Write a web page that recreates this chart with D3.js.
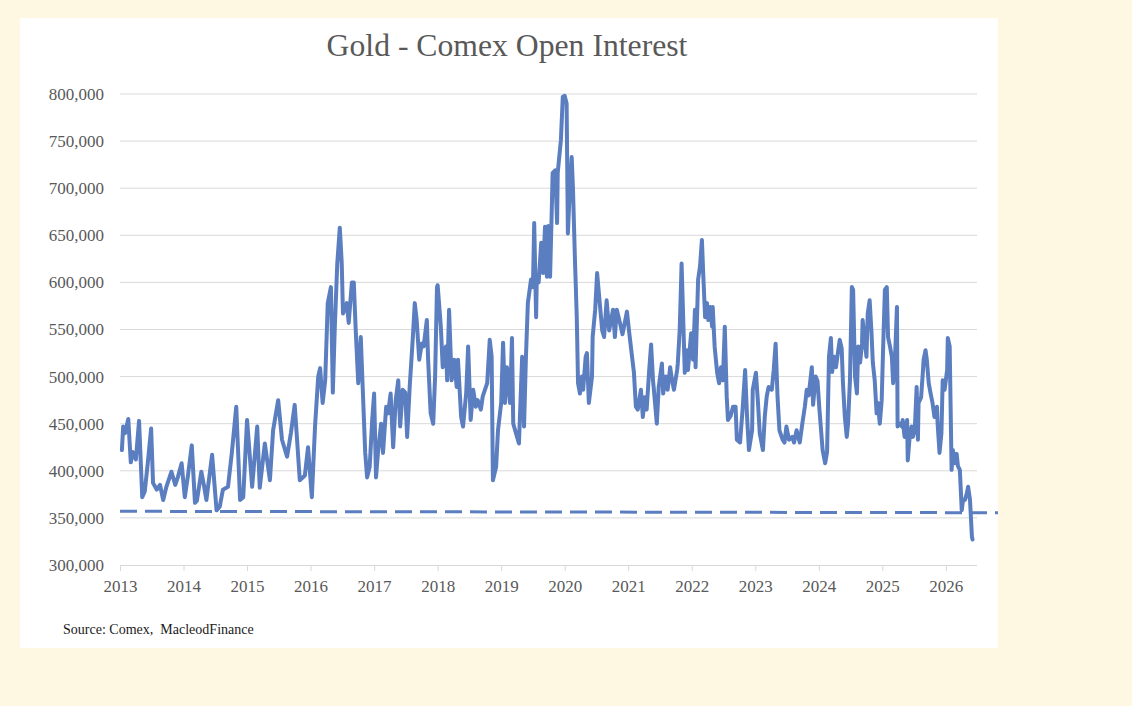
<!DOCTYPE html>
<html><head><meta charset="utf-8">
<script src="https://cdn.jsdelivr.net/npm/d3@7"></script>
<style>
html,body{margin:0;padding:0;background:#FEF7E2;}
svg{display:block;}
</style></head>
<body>
<svg id="chart" width="1132" height="706"></svg>
<script>
// Open interest readings: [decimal year, contracts in thousands]
const oi2013 = [[2013.03,422],[2013.05,447],[2013.08,440],[2013.13,455],[2013.17,409],[2013.20,420],[2013.25,412],[2013.30,453],[2013.35,372],[2013.39,378],[2013.44,410],[2013.49,445],[2013.52,387],[2013.58,380],[2013.63,385],[2013.68,369],[2013.73,383],[2013.81,399],[2013.87,385],[2013.91,393],[2013.97,408]];
const oi2014 = [[2014.02,372],[2014.07,395],[2014.13,427],[2014.18,366],[2014.21,368],[2014.28,399],[2014.32,385],[2014.36,369],[2014.45,417],[2014.52,358],[2014.57,362],[2014.62,380],[2014.70,383],[2014.76,419],[2014.83,468],[2014.89,369],[2014.94,372]];
const oi2015 = [[2015.00,454],[2015.08,383],[2015.16,447],[2015.20,382],[2015.28,429],[2015.36,390],[2015.41,443],[2015.49,475],[2015.55,433],[2015.63,415],[2015.69,440],[2015.75,470],[2015.83,390],[2015.91,395],[2015.96,425]];
const oi2016 = [[2016.02,372],[2016.07,447],[2016.12,500],[2016.15,509],[2016.19,472],[2016.23,496],[2016.27,578],[2016.32,595],[2016.35,483],[2016.38,550],[2016.42,620],[2016.46,658],[2016.49,621],[2016.51,567],[2016.57,578],[2016.60,557],[2016.65,600],[2016.68,600],[2016.71,550],[2016.75,493],[2016.79,542],[2016.82,489],[2016.86,419],[2016.89,393],[2016.93,404],[2016.97,454]];
const oi2017 = [[2017.00,482],[2017.03,393],[2017.06,419],[2017.11,450],[2017.14,419],[2017.19,468],[2017.22,461],[2017.26,482],[2017.30,425],[2017.34,475],[2017.38,496],[2017.41,447],[2017.45,486],[2017.49,483],[2017.52,436],[2017.56,489],[2017.61,542],[2017.64,578],[2017.67,560],[2017.71,518],[2017.75,535],[2017.78,532],[2017.83,560],[2017.85,518],[2017.89,461],[2017.93,450],[2017.96,500],[2017.99,595]];
const oi2018 = [[2018.00,597],[2018.05,553],[2018.08,510],[2018.13,532],[2018.15,496],[2018.18,571],[2018.22,496],[2018.26,518],[2018.30,489],[2018.32,518],[2018.37,457],[2018.40,447],[2018.45,483],[2018.48,532],[2018.52,454],[2018.56,486],[2018.60,468],[2018.63,475],[2018.68,465],[2018.71,479],[2018.78,493],[2018.82,539],[2018.85,521],[2018.87,390],[2018.92,404],[2018.95,443]];
const oi2019 = [[2019.00,472],[2019.03,536],[2019.06,472],[2019.09,510],[2019.14,472],[2019.17,541],[2019.19,450],[2019.25,436],[2019.28,429],[2019.33,521],[2019.36,447],[2019.39,521],[2019.42,578],[2019.47,603],[2019.50,595],[2019.52,663],[2019.55,563],[2019.56,603],[2019.59,600],[2019.63,642],[2019.66,610],[2019.69,659],[2019.72,606],[2019.74,660],[2019.77,606],[2019.80,687],[2019.81,716],[2019.85,719],[2019.88,663],[2019.89,716],[2019.94,751],[2019.97,797]];
const oi2020 = [[2020.00,798],[2020.03,790],[2020.05,652],[2020.08,698],[2020.11,733],[2020.13,700],[2020.16,627],[2020.19,563],[2020.21,493],[2020.24,482],[2020.27,500],[2020.29,486],[2020.33,521],[2020.35,525],[2020.38,472],[2020.43,500],[2020.44,542],[2020.48,571],[2020.51,610],[2020.54,587],[2020.59,549],[2020.62,542],[2020.66,581],[2020.70,549],[2020.74,563],[2020.76,571],[2020.79,542],[2020.82,571],[2020.87,557],[2020.91,545],[2020.98,569]];
const oi2021 = [[2021.01,550],[2021.06,521],[2021.09,504],[2021.12,468],[2021.15,465],[2021.20,486],[2021.23,457],[2021.26,478],[2021.29,465],[2021.33,507],[2021.36,534],[2021.39,496],[2021.40,489],[2021.45,450],[2021.48,489],[2021.53,514],[2021.55,482],[2021.59,500],[2021.62,486],[2021.66,510],[2021.69,496],[2021.72,486],[2021.77,507],[2021.78,514],[2021.81,549],[2021.84,620],[2021.86,574],[2021.89,504],[2021.92,528],[2021.94,507],[2021.99,546]];
const oi2022 = [[2022.02,518],[2022.05,571],[2022.06,510],[2022.10,603],[2022.13,617],[2022.16,645],[2022.18,610],[2022.21,563],[2022.24,578],[2022.26,560],[2022.29,574],[2022.32,553],[2022.33,574],[2022.36,532],[2022.40,504],[2022.43,493],[2022.46,510],[2022.49,496],[2022.52,553],[2022.55,479],[2022.57,454],[2022.61,458],[2022.65,468],[2022.69,468],[2022.71,433],[2022.76,430],[2022.80,465],[2022.84,507],[2022.87,458],[2022.90,422],[2022.95,443],[2022.96,486]];
const oi2023 = [[2023.01,504],[2023.04,475],[2023.07,440],[2023.12,422],[2023.15,458],[2023.18,479],[2023.21,489],[2023.26,486],[2023.29,507],[2023.32,535],[2023.35,479],[2023.38,443],[2023.43,433],[2023.46,430],[2023.49,447],[2023.53,433],[2023.58,436],[2023.61,430],[2023.65,443],[2023.70,430],[2023.74,450],[2023.78,468],[2023.81,486],[2023.84,480],[2023.89,510],[2023.91,470],[2023.95,500],[2023.98,495]];
const oi2024 = [[2024.01,465],[2024.06,422],[2024.10,408],[2024.13,420],[2024.16,521],[2024.19,541],[2024.21,505],[2024.24,521],[2024.27,510],[2024.30,525],[2024.33,539],[2024.36,530],[2024.38,493],[2024.41,457],[2024.44,436],[2024.46,450],[2024.49,496],[2024.52,595],[2024.54,592],[2024.57,500],[2024.60,482],[2024.62,532],[2024.65,515],[2024.68,535],[2024.69,560],[2024.72,540],[2024.75,521],[2024.77,567],[2024.80,581],[2024.83,546],[2024.85,515],[2024.88,496],[2024.91,461],[2024.93,472],[2024.96,450],[2024.99,475]];
const oi2025 = [[2025.01,525],[2025.04,592],[2025.07,595],[2025.09,542],[2025.12,532],[2025.15,521],[2025.17,493],[2025.20,521],[2025.23,574],[2025.24,447],[2025.28,450],[2025.31,447],[2025.32,454],[2025.35,436],[2025.39,454],[2025.40,411],[2025.43,436],[2025.46,447],[2025.48,436],[2025.51,443],[2025.54,489],[2025.56,433],[2025.57,472],[2025.61,478],[2025.64,507],[2025.65,518],[2025.68,528],[2025.70,518],[2025.73,493],[2025.76,482],[2025.79,472],[2025.82,457],[2025.86,468],[2025.87,450],[2025.90,419],[2025.93,440],[2025.95,496],[2025.98,486]];
const oi2026 = [[2026.02,507],[2026.03,541],[2026.06,532],[2026.09,401],[2026.11,422],[2026.14,408],[2026.17,418],[2026.19,405],[2026.22,401],[2026.25,358],[2026.27,369],[2026.30,369],[2026.33,376],[2026.35,383],[2026.38,369],[2026.41,330],[2026.42,327]];

// Dashed reference level: [start year, value], [end year, value]
const refLine = [[2013.0, 357000], [2026.82, 355500]];

const yTicks = [300000, 350000, 400000, 450000, 500000, 550000, 600000, 650000, 700000, 750000, 800000];
const xTicks = [2013, 2014, 2015, 2016, 2017, 2018, 2019, 2020, 2021, 2022, 2023, 2024, 2025, 2026];
const titleText = "Gold - Comex Open Interest";
const sourceText = "Source: Comex,  MacleodFinance";

const series = [].concat(oi2013, oi2014, oi2015, oi2016, oi2017, oi2018, oi2019, oi2020, oi2021, oi2022, oi2023, oi2024, oi2025, oi2026)
  .map(d => ({t: d[0], v: d[1] * 1000}));

const svg = d3.select("#chart");
const serif = "'Liberation Serif', 'DejaVu Serif', serif";
const textCol = "#595959";

// white chart panel
svg.append("rect").attr("x", 20).attr("y", 18).attr("width", 978).attr("height", 630).attr("fill", "#ffffff");

const x = d3.scaleLinear().domain([2013, 2026.49]).range([120, 977]);
const y = d3.scaleLinear().domain([300000, 800000]).range([565, 94]);

// gridlines
svg.append("g").selectAll("line").data(yTicks.slice(1)).join("line")
  .attr("x1", x(2013)).attr("x2", 977)
  .attr("y1", d => y(d)).attr("y2", d => y(d))
  .attr("stroke", "#d9d9d9").attr("stroke-width", 1);

// x axis
const xAxis = d3.axisBottom(x).tickValues(xTicks).tickFormat(d3.format("d")).tickSize(6).tickSizeOuter(0);
const gx = svg.append("g").attr("transform", `translate(0,${y(300000)})`).call(xAxis);
gx.select(".domain").attr("stroke", "#d9d9d9").attr("d", `M${x(2013)},0.5H977`);
gx.selectAll(".tick line").attr("stroke", "#d9d9d9");
gx.selectAll(".tick text").attr("font-family", serif).attr("font-size", 17).attr("fill", textCol).attr("dy", "1.05em");

// y axis
const yAxis = d3.axisLeft(y).tickValues(yTicks).tickFormat(d3.format(",")).tickSize(0);
const gy = svg.append("g").attr("transform", `translate(${x(2013) - 13},0)`).call(yAxis);
gy.select(".domain").remove();
gy.selectAll(".tick text").attr("font-family", serif).attr("font-size", 17).attr("fill", textCol);

// dashed reference line
svg.append("path").datum(refLine)
  .attr("d", d3.line().x(d => x(d[0])).y(d => y(d[1])))
  .attr("fill", "none").attr("stroke", "#5B7EC0").attr("stroke-width", 3)
  .attr("stroke-dasharray", "17,8");

// main series
svg.append("path").datum(series)
  .attr("d", d3.line().x(d => x(d.t)).y(d => y(d.v)))
  .attr("fill", "none").attr("stroke", "#5B7EC0").attr("stroke-width", 4)
  .attr("stroke-linejoin", "round").attr("stroke-linecap", "round");

// title
const title = svg.append("text").attr("x", 507).attr("y", 56).attr("text-anchor", "middle")
  .attr("font-family", serif).attr("font-size", 29).attr("fill", textCol).text(titleText);
const tw = title.node().getComputedTextLength();
title.attr("font-size", 29 * 361 / tw);

// source
const src = svg.append("text").attr("x", 63).attr("y", 634)
  .attr("font-family", serif).attr("font-size", 12).attr("fill", "#1a1a1a")
  .attr("xml:space", "preserve").style("white-space", "pre").text(sourceText);
const sw = src.node().getComputedTextLength();
src.attr("font-size", 12 * 191 / sw);
</script>
</body></html>
